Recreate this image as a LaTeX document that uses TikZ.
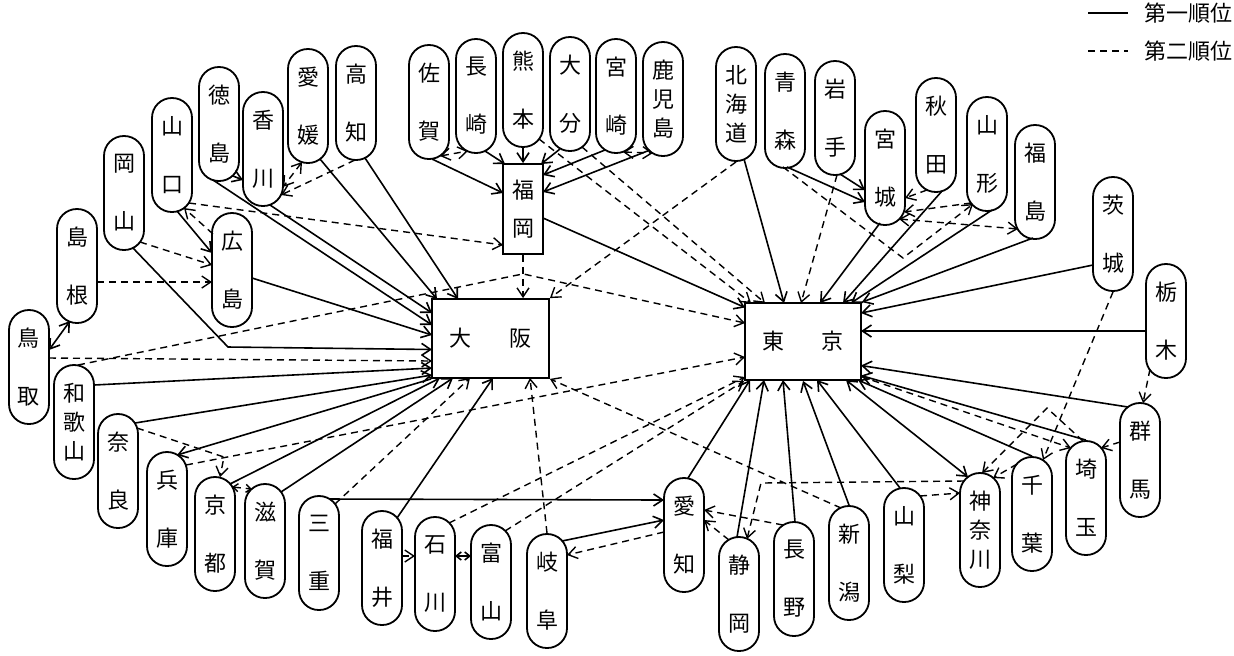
\documentclass[tikz,border=0pt]{standalone}
\usepackage{fontspec}
\setmainfont{Noto Sans CJK JP}
\usetikzlibrary{arrows.meta, calc}

\begin{document}
\begin{tikzpicture}[
    x=0.5pt, y=-0.5pt,
    ken/.style={rectangle, rounded corners=9.9pt, draw=black, line width=0.9pt, minimum width=20pt, minimum height=57pt, inner sep=0pt, align=center, font=\fontsize{11}{29}\selectfont},
    ken3/.style={ken, font=\fontsize{11}{14.5}\selectfont},
    hub/.style={rectangle, draw=black, line width=0.9pt, inner sep=0pt, align=center, font=\fontsize{11}{19}\selectfont},
    prim/.style={-{Straight Barb[length=4.5pt,width=6pt]}, line width=0.8pt},
    sec/.style={prim, line width=0.7pt, dash pattern=on 3.5pt off 2.5pt},
    both/.style={{Straight Barb[length=4.5pt,width=6pt]}-{Straight Barb[length=4.5pt,width=6pt]}},
    shortboth/.style={{Straight Barb[length=2.5pt,width=4pt]}-{Straight Barb[length=2.5pt,width=4pt]}}
]
\useasboundingbox (0,0) rectangle (1234,655);

% Centres
\node[hub, minimum width=20pt, minimum height=45pt] (fukuoka) at (523,209) {福\\岡};
\node[hub, minimum width=58.5pt, minimum height=39.5pt] (osaka) at (490.5,338.5) {大\hspace{19pt}阪};
\node[hub, minimum width=58pt, minimum height=38.5pt] (tokyo) at (803,341.5) {東\hspace{18.5pt}京};

% Kyushu
\node[ken] (saga) at (429,102) {佐\\賀};
\node[ken] (nagasaki) at (476,96) {長\\崎};
\node[ken] (kumamoto) at (523,90) {熊\\本};
\node[ken] (oita) at (570,94) {大\\分};
\node[ken] (miyazaki) at (616,96) {宮\\崎};
\node[ken3] (kagoshima) at (663,99) {鹿\\児\\島};

% Chugoku, Shikoku
\node[ken] (tottori) at (29,367) {鳥\\取};
\node[ken] (shimane) at (77,266) {島\\根};
\node[ken] (okayama) at (124,193) {岡\\山};
\node[ken] (yamaguchi) at (172,155) {山\\口};
\node[ken] (hiroshima) at (232,270) {広\\島};
\node[ken] (tokushima) at (219,124) {徳\\島};
\node[ken] (kagawa) at (263,149) {香\\川};
\node[ken] (ehime) at (308,106) {愛\\媛};
\node[ken] (kochi) at (356,103) {高\\知};

% Kinki, Chubu
\node[ken3] (wakayama) at (74,422) {和\\歌\\山};
\node[ken] (nara) at (118,471) {奈\\良};
\node[ken] (hyogo) at (167,509) {兵\\庫};
\node[ken] (kyoto) at (215,534) {京\\都};
\node[ken] (shiga) at (265,541) {滋\\賀};
\node[ken] (mie) at (319,553) {三\\重};
\node[ken] (fukui) at (382,568) {福\\井};
\node[ken] (ishikawa) at (435,574) {石\\川};
\node[ken] (toyama) at (491,582) {富\\山};
\node[ken] (gifu) at (547,591) {岐\\阜};
\node[ken] (aichi) at (684,535) {愛\\知};
\node[ken] (shizuoka) at (739,594) {静\\岡};
\node[ken] (nagano) at (794,579) {長\\野};
\node[ken] (niigata) at (849,563) {新\\潟};
\node[ken] (yamanashi) at (904,545) {山\\梨};

% Kanto
\node[ken3] (kanagawa) at (980,530) {神\\奈\\川};
\node[ken] (chiba) at (1032,514) {千\\葉};
\node[ken] (saitama) at (1086,498) {埼\\玉};
\node[ken] (gunma) at (1140,460) {群\\馬};
\node[ken] (tochigi) at (1166,321) {栃\\木};
\node[ken] (ibaraki) at (1113,234) {茨\\城};

% Tohoku, Hokkaido
\node[ken3] (hokkaido) at (736,104) {北\\海\\道};
\node[ken] (aomori) at (785,111) {青\\森};
\node[ken] (iwate) at (835,118) {岩\\手};
\node[ken] (miyagi) at (885,168) {宮\\城};
\node[ken] (akita) at (936,135) {秋\\田};
\node[ken] (yamagata) at (987,154) {山\\形};
\node[ken] (fukushima) at (1035,182) {福\\島};

% Legend
\node[anchor=west, font=\fontsize{11}{12}\selectfont] (leg1) at (1137,13) {第一順位};
\node[anchor=west, font=\fontsize{11}{12}\selectfont] (leg2) at (1137,51) {第二順位};
\coordinate (l1) at (1088,13);
\coordinate (l2) at (1088,51);
\draw[line width=0.8pt] (l1) -- ($(leg1.west)+(-9,0)$);
\draw[line width=0.7pt, dash pattern=on 3.5pt off 2.5pt] (l2) -- ($(leg2.west)+(-9,0)$);

% Kyushu links
\draw[prim] ($(saga)+(3,57)$) -- ($(fukuoka)+(-20,-16)$);
\draw[sec, both] ($(saga)+(11,54)$) -- ($(nagasaki)+(-8,55)$);
\draw[prim] ($(nagasaki)+(9,55)$) -- ($(fukuoka)+(-18,-45)$);
\draw[prim] (kumamoto.south) -- (fukuoka.north);
\draw[prim] ($(oita)+(-10,55)$) -- ($(fukuoka)+(18,-45)$);
\draw[prim] ($(miyazaki)+(-11,54)$) -- ($(fukuoka)+(20,-34)$);
\draw[prim] ($(kagoshima)+(-13,51)$) -- ($(fukuoka)+(20,-17)$);
\draw[sec, both] ($(miyazaki)+(7,56)$) -- ($(kagoshima)+(-10,54)$);
\draw[sec] ($(kumamoto)+(16,49)$) -- ($(tokyo)+(-52,-38.5)$);
\draw[sec] ($(oita)+(12,53)$) -- ($(tokyo)+(-38,-38.5)$);
\draw[prim] ($(fukuoka)+(20,9)$) -- ($(tokyo)+(-58,-34)$);
\draw[sec] (fukuoka.south) -- (fukuoka.south |- osaka.north);

% Chugoku, Shikoku links
\draw[sec] ($(yamaguchi)+(17,48)$) -- ($(fukuoka)+(-20,36)$);
\draw[prim] ($(yamaguchi)+(5,56)$) -- ($(hiroshima)+(-20,-17)$);
\draw[sec] ($(hiroshima)+(-19,-36)$) -- ($(yamaguchi)+(12,53)$);
\draw[prim] ($(okayama)+(9,55)$) -- ++(95,99) -- ($(osaka)+(-58.5,11)$);
\draw[sec] ($(okayama)+(16,49)$) -- ($(hiroshima)+(-20,-5)$);
\draw[sec] ($(shimane)+(20,16)$) -- ($(hiroshima)+(-20,12)$);
\draw[prim, both] ($(shimane)+(-7,55)$) -- ($(tottori)+(20,-17)$);
\draw[sec] ($(tottori)+(20,-9)$) -- ($(osaka)+(-58.5,22.5)$);
\draw[sec] ($(wakayama)+(4,-57)$) -- ($(fukuoka.south)+(0,19)$) -- ($(tokyo)+(-58,-18.5)$);
\draw[sec, both] ($(ehime)+(-6,56)$) -- ($(kagawa)+(20,38)$);
\draw[sec] ($(kochi)+(-1,57)$) -- ($(kagawa)+(18,46)$);
\draw[prim] ($(tokushima)+(14,52)$) -- ($(kagawa)+(-20,31)$);
\draw[prim] ($(tokushima)+(-6,56)$) -- ($(osaka)+(-58.5,-13.5)$);
\draw[prim] ($(kagawa)+(7,56)$) -- ($(osaka)+(-58.5,-25.5)$);
\draw[prim] ($(hiroshima)+(20,8)$) -- ($(osaka)+(-58.5,-3.5)$);
\draw[prim] ($(ehime)+(12,53)$) -- ($(osaka)+(-53.5,-39.5)$);
\draw[prim] ($(kochi)+(9,55)$) -- ($(osaka)+(-32.5,-39.5)$);

% Kinki links
\draw[prim] ($(wakayama)+(20,-37)$) -- ($(osaka)+(-58.5,29.5)$);
\draw[prim] ($(nara)+(17,-48)$) -- ($(osaka)+(-58.5,36.5)$);
\draw[sec] ($(nara)+(19,-43)$) -- ++(87,29) -- ($(kyoto)+(5,-57)$);
\draw[prim] (osaka.south west) -- ($(hyogo)+(10,-54)$);
\draw[sec] ($(hyogo)+(19,-44)$) -- ($(tokyo)+(-58,15.5)$);
\draw[prim] ($(kyoto)+(15,-50)$) -- ($(osaka)+(-50.5,39.5)$);
\draw[sec, shortboth] ($(kyoto)+(17,-47)$) -- ($(shiga)+(-13,-52)$);
\draw[prim] ($(shiga)+(16,-49)$) -- ($(osaka)+(-37.5,39.5)$);
\draw[sec] ($(mie)+(16,-49)$) -- ($(osaka)+(-20.5,39.5)$);
\draw[prim] ($(mie)+(10,-54)$) -- ($(aichi)+(-20,-35)$);

% Chubu links
\draw[prim] ($(fukui)+(15,-50)$) -- ($(osaka)+(2.5,39.5)$);
\draw[sec] ($(fukui)+(20,-12)$) -- ($(ishikawa)+(-20,-18)$);
\draw[prim, shortboth] ($(ishikawa)+(20,-18)$) -- ($(toyama)+(-20,-26)$);
\draw[sec] ($(ishikawa)+(14,-51)$) -- ($(tokyo)+(-58,35.5)$);
\draw[sec] ($(toyama)+(14,-51)$) -- (tokyo.south west);
\draw[sec] (gifu.north) -- ($(osaka)+(39.5,39.5)$);
\draw[prim] ($(gifu)+(15,-50)$) -- ($(aichi)+(-20,-15)$);
\draw[sec] ($(aichi)+(-20,-3)$) -- ($(gifu)+(20,-36)$);
\draw[prim] ($(aichi)+(4,-57)$) -- ($(tokyo)+(-53,38.5)$);
\draw[sec] ($(nagano)+(-11,-54)$) -- ($(aichi)+(20,-25)$);
\draw[sec] ($(shizuoka)+(-10,-54)$) -- ($(aichi)+(20,-15)$);
\draw[prim] ($(shizuoka)+(-2,-57)$) -- ($(tokyo)+(-39,38.5)$);
\draw[sec] ($(kanagawa)+(-16,-49)$) -- ++(-203,2) -- ($(shizuoka)+(8,-55)$);
\draw[prim] ($(nagano)+(1,-57)$) -- ($(tokyo)+(-20,38.5)$);
\draw[prim] (niigata.north) -- (tokyo.south);
\draw[sec] ($(niigata)+(-8,-55)$) -- (osaka.south east);
\draw[prim] ($(yamanashi)+(-4,-57)$) -- ($(tokyo)+(14,38.5)$);
\draw[sec] ($(yamanashi)+(16,-49)$) -- ($(kanagawa)+(-20,-37)$);

% Kanto links
\draw[prim, both] ($(tokyo)+(43,38.5)$) -- ($(kanagawa)+(-12,-53)$);
\draw[prim] (chiba.north) -- ($(tokyo)+(55,38.5)$);
\draw[sec] ($(chiba)+(-15,-50)$) -- ($(kanagawa)+(13,-52)$);
\draw[sec] ($(saitama)+(-3,-57)$) -- ++(-36,-33) -- ($(kanagawa)+(2,-57)$);
\draw[sec] ($(tokyo)+(58,35)$) -- ($(saitama)+(-15,-50)$);
\draw[prim] (saitama.north) -- ($(tokyo)+(58,34)$);
\draw[sec] ($(gunma)+(-20,-18)$) -- ($(saitama)+(15,-50)$);
\draw[prim] ($(gunma)+(-12,-53)$) -- ($(tokyo)+(58,24)$);
\draw[sec] ($(tochigi)+(-16,48)$) -- ($(gunma)+(3,-57)$);
\draw[prim] ($(tochigi)+(-20,10)$) -- ($(tokyo)+(58,-10.5)$);
\draw[sec] (ibaraki.south) -- ($(chiba)+(11,-54)$);
\draw[prim] ($(ibaraki)+(-20,31)$) -- ($(tokyo)+(58,-28.5)$);

% Tohoku links
\draw[prim] ($(hokkaido)+(8,55)$) -- ($(tokyo)+(-19,-38.5)$);
\draw[sec] (hokkaido.south) -- (osaka.north east);
\draw[prim] ($(aomori)+(2,56)$) -- ($(miyagi)+(-20,34)$);
\draw[sec] ($(aomori)+(-2,56)$) -- ++(120,91) -- ($(yamagata)+(-14,50)$);
\draw[prim] ($(iwate)+(5,56)$) -- ($(miyagi)+(-20,22)$);
\draw[sec] ($(iwate)+(2,57)$) -- ($(tokyo)+(-2,-38.5)$);
\draw[prim] ($(miyagi)+(-5,55)$) -- ($(tokyo)+(17,-38.5)$);
\draw[prim] ($(akita)+(6,56)$) -- ($(tokyo)+(40,-38.5)$);
\draw[sec] ($(akita)+(-9,55)$) -- ($(miyagi)+(20,30)$);
\draw[prim] ($(yamagata)+(5,56)$) -- ($(tokyo)+(48,-38.5)$);
\draw[sec] ($(yamagata)+(-16,49)$) -- ($(miyagi)+(19,44)$);
\draw[sec, both] ($(miyagi)+(14,51)$) -- ($(fukushima)+(-17,47)$);
\draw[prim] ($(fukushima)+(-2,56)$) -- (tokyo.north east);

\end{tikzpicture}
\end{document}
